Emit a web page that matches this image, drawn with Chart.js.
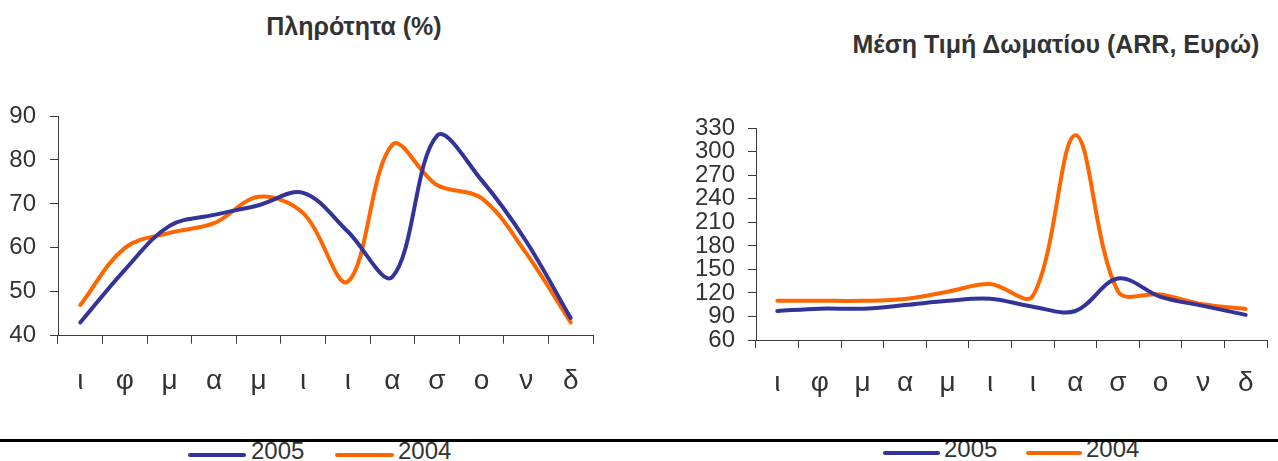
<!DOCTYPE html>
<html>
<head>
<meta charset="utf-8">
<script src="https://cdn.jsdelivr.net/npm/chart.js@4.4.1/dist/chart.umd.min.js"></script>
<style>
html,body{margin:0;padding:0;background:#fff;}
body{width:1278px;height:461px;overflow:hidden;position:relative;font-family:"Liberation Sans",Arial,sans-serif;color:#333;}
canvas{position:absolute;top:0;}
#c1{left:0;}
#c2{left:640px;}
.title{position:absolute;font-weight:bold;font-size:25px;line-height:25px;white-space:nowrap;text-align:center;color:#333;}
.rule{position:absolute;left:0;top:439px;width:1278px;height:3px;background:#000;z-index:5;}
.lg{position:absolute;height:4px;border-radius:2px;}
.lt{position:absolute;font-size:24px;line-height:24px;color:#333;white-space:nowrap;}
</style>
</head>
<body>
<div class="title" id="t1" style="left:204px;top:14px;width:300px;">Πληρότητα (%)</div>
<div class="title" id="t2" style="left:806px;top:32px;width:500px;">Μέση Τιμή Δωματίου (ARR, Ευρώ)</div>
<canvas id="c1" width="640" height="430"></canvas>
<canvas id="c2" width="638" height="430"></canvas>
<div class="rule"></div>
<div id="leg1"></div>
<div id="leg2"></div>
<script>
// ---- data ----
const months = ['ι','φ','μ','α','μ','ι','ι','α','σ','ο','ν','δ'];
const seriesNames = ['2005','2004'];
const occupancy2005 = [43, 55, 65, 67.5, 69.7, 72.5, 63.7, 53.4, 85.5, 75.4, 61.5, 44];
const occupancy2004 = [47, 60, 63.4, 65.6, 71.6, 67.9, 52.3, 83.5, 74.3, 71.3, 58.8, 43];
const arr2005 = [97, 100, 100, 104.5, 110, 112.5, 102.5, 97, 138.5, 115, 103.5, 92];
const arr2004 = [110, 110, 110, 112.3, 121.6, 131.4, 116, 321, 122, 118, 105.5, 99.5];
const occupancyTicks = [40, 50, 60, 70, 80, 90];
const arrTicks = [60, 90, 120, 150, 180, 210, 240, 270, 300, 330];

// ---- styles ----
const BLUE = '#333399';
const ORANGE = '#FF6600';
const AXIS = '#3a3a3a';
const FAMILY = '"Liberation Sans", Arial, sans-serif';

function makeChart(id, d05, d04, ticks, geom) {
  const step = ticks[1] - ticks[0];
  return new Chart(document.getElementById(id), {
    type: 'line',
    data: {
      labels: months,
      datasets: [
        {label: seriesNames[0], data: d05, borderColor: BLUE, backgroundColor: BLUE},
        {label: seriesNames[1], data: d04, borderColor: ORANGE, backgroundColor: ORANGE}
      ]
    },
    options: {
      responsive: false,
      animation: false,
      events: [],
      layout: {padding: {top: geom.top, right: geom.right, left: 0, bottom: 0}},
      elements: {
        line: {borderWidth: 4, tension: 0.35, borderCapStyle: 'round', borderJoinStyle: 'round', fill: false},
        point: {radius: 0, hoverRadius: 0}
      },
      plugins: {legend: {display: false}, title: {display: false}, tooltip: {enabled: false}},
      scales: {
        x: {
          offset: true,
          grid: {offset: true, drawOnChartArea: false, drawTicks: true, tickLength: 8, color: AXIS, lineWidth: 1},
          border: {color: AXIS, width: 1},
          ticks: {font: {family: FAMILY, size: 28, lineHeight: 1}, color: '#333', padding: geom.xp, maxRotation: 0, autoSkip: false},
          afterFit: s => { s.height = geom.xh; }
        },
        y: {
          min: ticks[0], max: ticks[ticks.length - 1],
          grid: {drawOnChartArea: false, drawTicks: true, tickLength: 8, color: AXIS, lineWidth: 1},
          border: {color: AXIS, width: 1},
          ticks: {stepSize: step, font: {family: FAMILY, size: 24, lineHeight: 1}, color: '#333', padding: geom.yp, autoSkip: false, maxTicksLimit: 20},
          afterFit: s => { s.width = geom.yw; }
        }
      }
    }
  });
}

makeChart('c1', occupancy2005, occupancy2004, occupancyTicks, {top: 116, right: 47, xh: 430 - 335.7, yw: 58, yp: 14, xp: 24});
makeChart('c2', arr2005, arr2004, arrTicks, {top: 128.3, right: 11, xh: 430 - 340, yw: 116, yp: 13, xp: 21});

// ---- legends (HTML) ----
function legend(host, items) {
  const el = document.getElementById(host);
  items.forEach(it => {
    const l = document.createElement('div');
    l.className = 'lg';
    l.style.left = it.lx + 'px'; l.style.top = it.ly + 'px'; l.style.width = it.lw + 'px'; l.style.background = it.c;
    el.appendChild(l);
    const t = document.createElement('div');
    t.className = 'lt';
    t.style.left = it.tx + 'px'; t.style.top = it.ty + 'px';
    t.textContent = it.name;
    el.appendChild(t);
  });
}
legend('leg1', [
  {name: seriesNames[0], c: BLUE, lx: 188, ly: 453, lw: 58, tx: 251, ty: 439},
  {name: seriesNames[1], c: ORANGE, lx: 335, ly: 453, lw: 59, tx: 398, ty: 439}
]);
legend('leg2', [
  {name: seriesNames[0], c: BLUE, lx: 883, ly: 451, lw: 57, tx: 944, ty: 437},
  {name: seriesNames[1], c: ORANGE, lx: 1026, ly: 451, lw: 56, tx: 1086, ty: 437}
]);
</script>
</body>
</html>
